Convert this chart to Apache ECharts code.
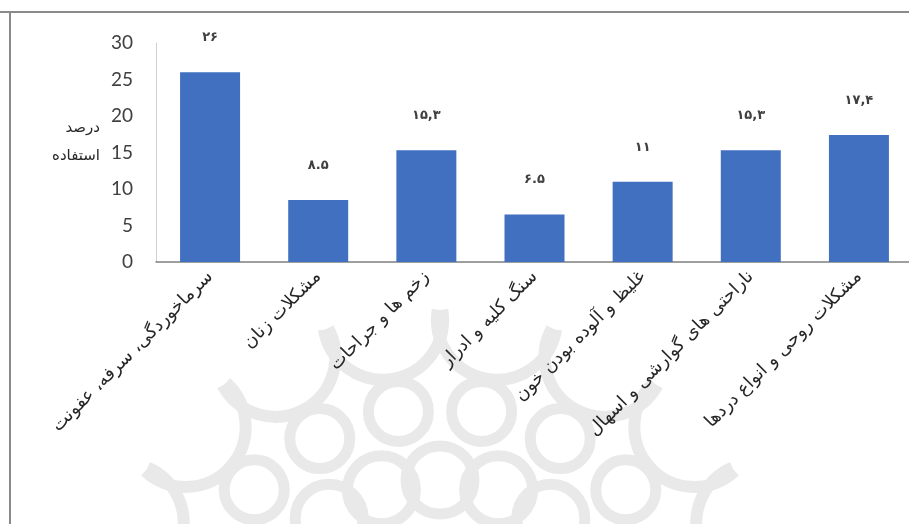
<!DOCTYPE html>
<html>
<head>
<meta charset="utf-8">
<script src="https://cdn.jsdelivr.net/npm/echarts@6/dist/echarts.min.js"></script>
<style>
html,body{margin:0;padding:0;background:#fff;}
#c{width:909px;height:524px;}
</style>
</head>
<body>
<div id="c"></div>
<script>
// ---- data ----
var categories = [
  'سرماخوردگی، سرفه، عفونت',
  'مشکلات زنان',
  'زخم ها و جراحات',
  'سنگ کلیه و ادرار',
  'غلیظ و آلوده بودن خون',
  'ناراحتی های گوارشی و اسهال',
  'مشکلات روحی و انواع دردها'
];
var values = [26, 8.5, 15.3, 6.5, 11, 15.3, 17.4];
var valueLabels = ['۲۶', '۸.۵', '۱۵,۳', '۶.۵', '۱۱', '۱۵,۳', '۱۷,۴'];
var yTicks = [0, 5, 10, 15, 20, 25, 30];
var yAxisTitle = ['درصد', 'استفاده'];

// ---- decorative watermark (background) ----
function watermark() {
  var els = [];
  var cx = 440, cy = 660;
  var col = '#e9e9e9';
  var angs = [-9.5, 9.5, -28.5, 28.5, -47.5, 47.5, -66.5, 66.5];
  angs.forEach(function (d) {
    var th = (-90 + d) * Math.PI / 180;
    var px = cx + 345 * Math.cos(th), py = cy + 345 * Math.sin(th);
    els.push({type: 'arc', z: -10, silent: true,
      shape: {cx: px, cy: py, r: 60, startAngle: th + Math.PI / 2, endAngle: th + 3 * Math.PI / 2, clockwise: true},
      style: {stroke: col, lineWidth: 12, fill: null}});
    var rx = cx + 252 * Math.cos(th), ry = cy + 252 * Math.sin(th);
    els.push({type: 'circle', z: -10, silent: true,
      shape: {cx: rx, cy: ry, r: 30},
      style: {stroke: col, lineWidth: 11, fill: null}});
  });
  [-19, 0, 19, -38, 38].forEach(function (d) {
    var th = (-90 + d) * Math.PI / 180;
    var rx = cx + 180 * Math.cos(th), ry = cy + 180 * Math.sin(th);
    els.push({type: 'circle', z: -10, silent: true,
      shape: {cx: rx, cy: ry, r: 34},
      style: {stroke: col, lineWidth: 11, fill: null}});
  });
  return els;
}

var chart = echarts.init(document.getElementById('c'), null, {renderer: 'canvas'});
var graphics = watermark().concat([
  {type: 'line', shape: {x1: 0, y1: 12, x2: 909, y2: 12}, style: {stroke: '#8a8a8a', lineWidth: 2}, z: 5},
  {type: 'line', shape: {x1: 10, y1: 12, x2: 10, y2: 524}, style: {stroke: '#8a8a8a', lineWidth: 2}, z: 5},
  {type: 'text', x: 100, y: 128, z: 5,
    style: {text: yAxisTitle[0], textAlign: 'right', textVerticalAlign: 'middle', fill: '#262626', font: '15px "DejaVu Sans", sans-serif'}},
  {type: 'text', x: 100, y: 156, z: 5,
    style: {text: yAxisTitle[1], textAlign: 'right', textVerticalAlign: 'middle', fill: '#262626', font: '15px "DejaVu Sans", sans-serif'}}
]);

chart.setOption({
  animation: false,
  backgroundColor: '#ffffff',
  grid: {left: 156, right: -4, top: 43, bottom: 262, containLabel: false, outerBoundsMode: 'none'},
  xAxis: {
    type: 'category',
    data: categories,
    axisLine: {lineStyle: {color: '#7f7f7f', width: 1.5}},
    axisTick: {show: false},
    axisLabel: {
      rotate: 45, interval: 0, margin: 12,
      color: '#262626', fontSize: 18, fontFamily: '"DejaVu Sans", sans-serif'
    }
  },
  yAxis: {
    type: 'value',
    min: yTicks[0], max: yTicks[yTicks.length - 1], interval: 5,
    axisLine: {show: true, lineStyle: {color: '#d0d0d0', width: 1}},
    axisTick: {show: false},
    splitLine: {show: false},
    axisLabel: {margin: 23, color: '#404040', fontSize: 19, fontFamily: 'Lato, "Open Sans", sans-serif'}
  },
  series: [{
    type: 'bar',
    data: values,
    barWidth: 60,
    itemStyle: {color: '#4170c0'},
    label: {
      show: true, position: 'top', distance: 28,
      color: '#404040', fontSize: 13, fontWeight: 'bold', fontFamily: '"DejaVu Sans", sans-serif',
      formatter: function (p) { return valueLabels[p.dataIndex]; }
    }
  }],
  graphic: graphics
});
</script>
</body>
</html>
